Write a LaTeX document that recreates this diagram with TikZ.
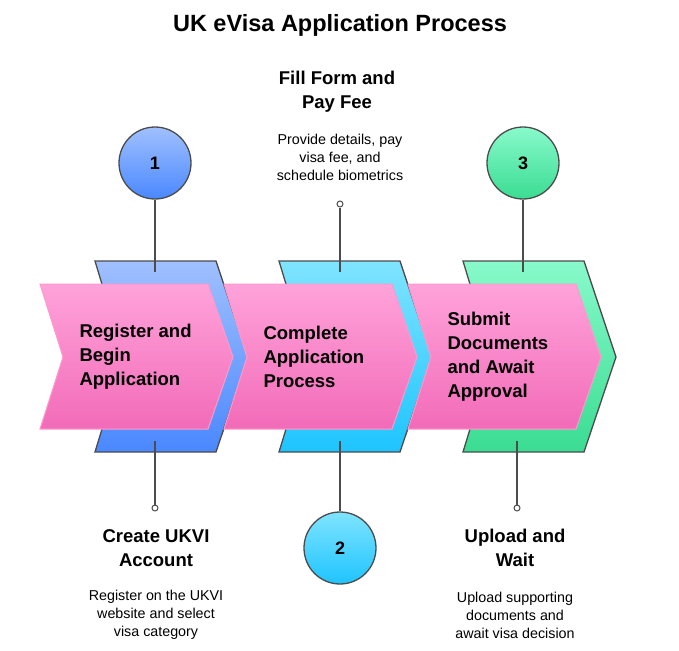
\documentclass[tikz,border=0pt]{standalone}
\usepackage{fontspec}
\setmainfont{Liberation Sans}
\begin{document}
\begin{tikzpicture}[x=1pt,y=-1pt,
  back/.style={draw=black!70,line width=1.3pt},
  pink/.style={draw=pink!80!magenta,line width=1pt,top color=pinkT,bottom color=pinkB},
  circ/.style={circle,draw=black!70,line width=1.3pt,minimum size=72pt,inner sep=0pt,font=\bfseries\fontsize{18}{20}\selectfont},
  dot/.style={circle,draw=black!70,fill=white,line width=1pt,minimum size=6pt,inner sep=0pt},
  conn/.style={draw=black!70,line width=1.3pt},
  lab/.style={align=left,anchor=west,font=\bfseries\fontsize{18.5}{24}\selectfont},
  head/.style={align=center,font=\bfseries\fontsize{18.5}{24}\selectfont},
  desc/.style={align=center,font=\fontsize{14.3}{18}\selectfont}]
\definecolor{pinkT}{HTML}{FFA3DA}
\definecolor{pinkB}{HTML}{F26BB8}
\definecolor{bT}{HTML}{A0C0FF}\definecolor{bB}{HTML}{4A88FF}
\definecolor{cT}{HTML}{80E4FF}\definecolor{cB}{HTML}{1EC4FF}
\definecolor{gT}{HTML}{88FACB}\definecolor{gB}{HTML}{3ADC92}
\useasboundingbox (0,0) rectangle (679,650);
\node[font=\bfseries\fontsize{23.5}{26}\selectfont] (title) at (340,25) {UK eVisa Application Process};
% back shapes
\draw[back,top color=bT,bottom color=bB] (95,261)--(216,261)--(248,357)--(216,452)--(95,452)--(124,357)--cycle;
\draw[back,top color=cT,bottom color=cB] (279,261)--(400,261)--(432,357)--(400,452)--(279,452)--(308,357)--cycle;
\draw[back,top color=gT,bottom color=gB] (463,261)--(584,261)--(616,357)--(584,452)--(463,452)--(492,357)--cycle;
% pink
\draw[pink] (40,284)--(208,284)--(233,357)--(208,429)--(40,429)--(63,357)--cycle;
\draw[pink] (224,284)--(392,284)--(417,357)--(392,429)--(224,429)--(247,357)--cycle;
\draw[pink] (408,284)--(576,284)--(601,357)--(576,429)--(408,429)--(431,357)--cycle;
\node[lab] (l1) at (76,357) {Register and\\Begin\\Application};
\node[lab] (l2) at (260,357) {Complete\\Application\\Process};
\node[lab] (l3) at (444,357) {Submit\\Documents\\and Await\\Approval};
% circles
\node[circ,top color=bT,bottom color=bB] (c1) at (155,163) {1};
\node[circ,top color=cT,bottom color=cB] (c2) at (340,548) {2};
\node[circ,top color=gT,bottom color=gB] (c3) at (523,163) {3};
\coordinate (e1) at (155,272);\coordinate (f1) at (155,441);
\coordinate (e2) at (340,272);\coordinate (f2) at (340,441);
\coordinate (e3) at (523,272);\coordinate (f3) at (517,441);
\node[dot] (d1) at (155,508) {};
\node[dot] (d2) at (340,204) {};
\node[dot] (d3) at (517,508) {};
\draw[conn] (c1)--(e1); \draw[conn] (f1)--(d1);
\draw[conn] (d2)--(e2); \draw[conn] (f2)--(c2);
\draw[conn] (c3)--(e3); \draw[conn] (f3)--(d3);
% texts
\node[head] (h2) at (337,92) {Fill Form and\\Pay Fee};
\node[desc] (s2) at (340,157) {Provide details, pay\\visa fee, and\\schedule biometrics};
\node[head] (h1) at (156,548) {Create UKVI\\Account};
\node[desc] (s1) at (156,615) {Register on the UKVI\\website and select\\visa category};
\node[head] (h3) at (515,548) {Upload and\\Wait};
\node[desc] (s3) at (515,615) {Upload supporting\\documents and\\await visa decision};
\end{tikzpicture}
\end{document}
